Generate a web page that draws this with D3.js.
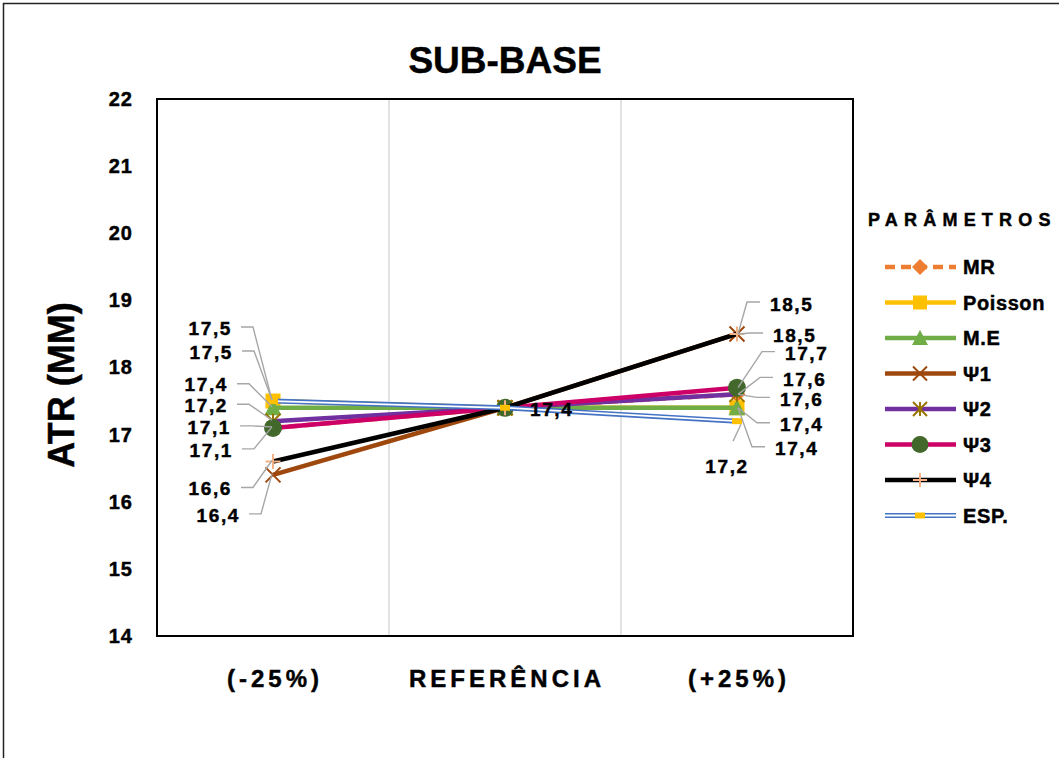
<!DOCTYPE html>
<html>
<head>
<meta charset="utf-8">
<script src="https://cdn.jsdelivr.net/npm/d3@7"></script>
<style>
  html, body { margin: 0; padding: 0; background: #fff; }
  svg { display: block; }
  text { font-family: "Liberation Sans", Arial, sans-serif; font-weight: bold; fill: #000; }
  .heavy { stroke: #000; stroke-width: 0.45px; paint-order: stroke; }
</style>
</head>
<body>
<svg id="chart" width="1059" height="758"></svg>
<script>
// Sensitivity of ATR (mm) to each parameter, sub-base layer
const categories = ["(-25%)", "REFERÊNCIA", "(+25%)"];
const seriesNames = ["MR", "Poisson", "M.E", "Ψ1", "Ψ2", "Ψ3", "Ψ4", "ESP."];
const mrValues      = [17.1, 17.4, 17.6];
const poissonValues = [17.5, 17.4, 17.4];
const meValues      = [17.4, 17.4, 17.4];
const psi1Values    = [16.4, 17.4, 18.5];
const psi2Values    = [17.2, 17.4, 17.6];
const psi3Values    = [17.1, 17.4, 17.7];
const psi4Values    = [16.6, 17.4, 18.5];
const espValues     = [17.5, 17.4, 17.2];
const yTickValues   = [14, 15, 16, 17, 18, 19, 20, 21, 22];

const seriesValues = [mrValues, poissonValues, meValues, psi1Values, psi2Values, psi3Values, psi4Values, espValues];

// Visual style per series
const styles = {
  "MR":      { color: "#ED7D31", dash: "10,6", marker: "diamond", mcolor: "#ED7D31" },
  "Poisson": { color: "#FFC000", marker: "square", mcolor: "#FFC000" },
  "M.E":     { color: "#70AD47", marker: "triangle", mcolor: "#70AD47" },
  "Ψ1":      { color: "#9E480E", marker: "x", mcolor: "#9E480E" },
  "Ψ2":      { color: "#7030A0", marker: "star", mcolor: "#997300" },
  "Ψ3":      { color: "#CC0066", marker: "circle", mcolor: "#43682B" },
  "Ψ4":      { color: "#000000", marker: "plus", mcolor: "#F4B183" },
  "ESP.":    { color: "#4472C4", double: true, marker: "bar", mcolor: "#FFC000" }
};

// Data-label placement (offsets from the point, in px): [category index] -> {dx, dy, side}
const labelPlacement = {
  "Poisson": [{ dx: -41, dy: -73, side: "left" }, null, { dx: 38, dy: 41, side: "right" }],
  "ESP.":    [{ dx: -40, dy: -49, side: "left" }, null, { dx: -10, dy: 45, side: "below" }],
  "M.E":     [{ dx: -45, dy: -23, side: "left" }, null, { dx: 43, dy: 17, side: "right" }],
  "Ψ2":      [{ dx: -45, dy: -16, side: "left" }, null, { dx: 46, dy: -15, side: "right" }],
  "Ψ3":      [{ dx: -42, dy: -1, side: "left" }, null, { dx: 48, dy: -34, side: "right" }],
  "MR":      [{ dx: -40, dy: 22, side: "left" }, null, { dx: 43, dy: 5, side: "right" }],
  "Ψ4":      [{ dx: -41, dy: 27, side: "left" }, { dx: 25, dy: 2, side: "plain" }, { dx: 33, dy: -30, side: "right" }],
  "Ψ1":      [{ dx: -33, dy: 40, side: "left" }, null, { dx: 36, dy: 1, side: "right" }]
};

const fmt = v => d3.format(".1f")(v).replace(".", ",");

const svg = d3.select("#chart");
const plot = { left: 157, right: 853, top: 99, bottom: 636 };

// Outer chart frame
svg.append("rect").attr("x", 3.5).attr("y", 3.5).attr("width", 1100).attr("height", 800)
  .attr("fill", "none").attr("stroke", "#222").attr("stroke-width", 1.5);

const x = d3.scaleBand().domain(categories).range([plot.left, plot.right]).padding(0);
const cx = c => x(c) + x.bandwidth() / 2;
const y = d3.scaleLinear().domain([14, 22]).range([plot.bottom, plot.top]);

// Category separators
svg.append("g").selectAll("line").data(categories.slice(1)).join("line")
  .attr("x1", d => x(d)).attr("x2", d => x(d))
  .attr("y1", plot.top).attr("y2", plot.bottom)
  .attr("stroke", "#D9D9D9").attr("stroke-width", 1.5);

// Plot border
svg.append("rect").attr("x", plot.left).attr("y", plot.top)
  .attr("width", plot.right - plot.left).attr("height", plot.bottom - plot.top)
  .attr("fill", "none").attr("stroke", "#000").attr("stroke-width", 2);

// Y axis
const yAxis = svg.append("g").attr("transform", `translate(${plot.left - 24},0)`)
  .call(d3.axisLeft(y).tickValues(yTickValues).tickSize(0).tickPadding(0).tickFormat(d3.format("d")));
yAxis.select(".domain").remove();
yAxis.selectAll("text").attr("class", "heavy")
  .style("font-family", "'Liberation Sans', Arial, sans-serif")
  .style("font-weight", "bold").style("font-size", "20px").style("letter-spacing", "1px").attr("fill", "#000");

// X axis labels
svg.append("g").selectAll("text").data(categories).join("text")
  .attr("class", "heavy")
  .attr("x", d => cx(d) + 2).attr("y", 687)
  .attr("text-anchor", "middle")
  .style("font-size", "24px").style("letter-spacing", "4px")
  .text(d => d);

// Titles
svg.append("text").attr("class", "heavy").attr("x", 505).attr("y", 73).attr("text-anchor", "middle")
  .style("font-size", "37px").text("SUB-BASE");
svg.append("text").attr("class", "heavy").attr("transform", "translate(74,385) rotate(-90)").attr("text-anchor", "middle")
  .style("font-size", "36px").text("ATR (MM)");

// Marker drawing
function drawMarker(g, type, color, px, py, s) {
  const h = s / 2;
  if (type === "diamond") {
    g.append("path").attr("d", `M${px},${py - h - 1}L${px + h + 1},${py}L${px},${py + h + 1}L${px - h - 1},${py}Z`).attr("fill", color);
  } else if (type === "square") {
    g.append("rect").attr("x", px - h).attr("y", py - h).attr("width", s).attr("height", s).attr("fill", color);
  } else if (type === "triangle") {
    g.append("path").attr("d", `M${px},${py - h - 1}L${px + h + 1},${py + h}L${px - h - 1},${py + h}Z`).attr("fill", color);
  } else if (type === "x") {
    g.append("path").attr("d", `M${px - h},${py - h}L${px + h},${py + h}M${px - h},${py + h}L${px + h},${py - h}`)
      .attr("stroke", color).attr("stroke-width", 2).attr("fill", "none");
  } else if (type === "star") {
    g.append("path").attr("d", `M${px - h},${py - h}L${px + h},${py + h}M${px - h},${py + h}L${px + h},${py - h}M${px},${py - h}L${px},${py + h}`)
      .attr("stroke", color).attr("stroke-width", 2).attr("fill", "none");
  } else if (type === "circle") {
    g.append("circle").attr("cx", px).attr("cy", py).attr("r", h + 1.5).attr("fill", color);
  } else if (type === "plus") {
    g.append("path").attr("d", `M${px - h},${py}L${px + h},${py}M${px},${py - h}L${px},${py + h}`)
      .attr("stroke", color).attr("stroke-width", 2).attr("fill", "none");
  } else if (type === "bar") {
    g.append("rect").attr("x", px - 5).attr("y", py - 3).attr("width", 10).attr("height", 6).attr("fill", color);
  }
}

function drawLine(g, st, pts) {
  const gen = d3.line().x(d => d[0]).y(d => d[1]);
  if (st.double) {
    g.append("path").attr("d", gen(pts)).attr("fill", "none").attr("stroke", st.color).attr("stroke-width", 5);
    g.append("path").attr("d", gen(pts)).attr("fill", "none").attr("stroke", "#fff").attr("stroke-width", 1.8);
  } else {
    g.append("path").attr("d", gen(pts)).attr("fill", "none").attr("stroke", st.color)
      .attr("stroke-width", 4.5).attr("stroke-dasharray", st.dash || null);
  }
}

// Series lines and markers
const seriesLayer = svg.append("g");
seriesNames.forEach((name, i) => {
  const st = styles[name];
  const g = seriesLayer.append("g");
  const pts = categories.map((c, j) => [cx(c), y(seriesValues[i][j])]);
  drawLine(g, st, pts);
  pts.forEach(p => drawMarker(g, st.marker, st.mcolor, p[0], p[1], 15));
});

// Data labels with leader lines
const labelLayer = svg.append("g");
seriesNames.forEach((name, i) => {
  categories.forEach((c, j) => {
    const lp = labelPlacement[name][j];
    if (!lp) return;
    const v = seriesValues[i][j];
    const px = cx(c), py = y(v);
    const tx = px + lp.dx, ty = py + lp.dy;
    let anchor = "start";
    if (lp.side === "left") {
      anchor = "end";
      const sy = ty - 1;
      labelLayer.append("path")
        .attr("d", `M${tx + 9},${sy}L${tx + 21},${sy}L${px - 1},${py - 1}`)
        .attr("fill", "none").attr("stroke", "#A6A6A6").attr("stroke-width", 1.4);
    } else if (lp.side === "right") {
      const sy = ty - 2;
      labelLayer.append("path")
        .attr("d", `M${tx - 10},${sy}L${tx - 23},${sy}L${px + 1},${py}`)
        .attr("fill", "none").attr("stroke", "#A6A6A6").attr("stroke-width", 1.4);
    } else if (lp.side === "below") {
      anchor = "middle";
      labelLayer.append("path")
        .attr("d", `M${tx + 6},${ty - 25}L${px + 4},${py + 3}`)
        .attr("fill", "none").attr("stroke", "#A6A6A6").attr("stroke-width", 1.4);
    }
    labelLayer.append("text")
      .attr("class", "heavy")
      .attr("x", tx).attr("y", ty).attr("dy", "0.35em")
      .attr("text-anchor", anchor)
      .style("font-size", "19px").style("letter-spacing", "1.6px")
      .text(fmt(v));
  });
});

// Legend
const legend = svg.append("g");
legend.append("text").attr("class", "heavy").attr("x", 868).attr("y", 226)
  .style("font-size", "18px").style("letter-spacing", "6.2px").text("PARÂMETROS");
seriesNames.forEach((name, i) => {
  const st = styles[name];
  const ly = 267 + i * 35.5;
  const g = legend.append("g");
  drawLine(g, st, [[885, ly], [956, ly]]);
  drawMarker(g, st.marker, st.mcolor, 920, ly, 14);
  g.append("text").attr("class", "heavy").attr("x", 963).attr("y", ly).attr("dy", "0.35em")
    .style("font-size", "20px").style("letter-spacing", "0.6px").text(name);
});
</script>
</body>
</html>
